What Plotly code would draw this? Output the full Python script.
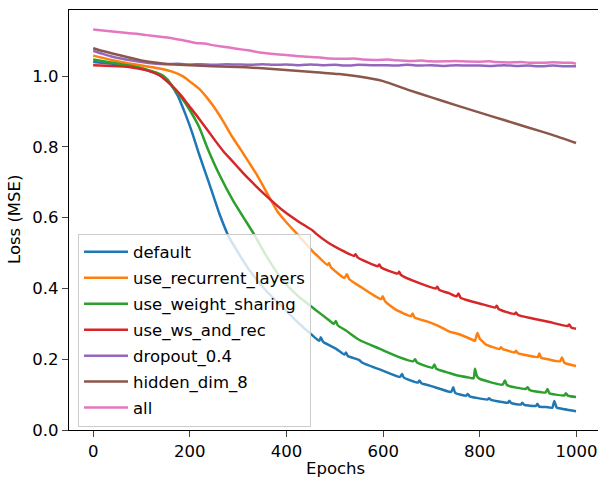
import plotly.graph_objects as go

# ---------------- data ----------------
default_x = [0, 40, 74, 109, 137, 150, 161, 175, 185, 195, 205, 219, 240, 261, 281, 306, 323, 357, 392, 419, 454,
             468, 471, 476, 502, 520, 523, 527, 550, 557, 599, 635, 639, 643, 672, 675, 679, 695, 737, 741, 745, 749,
             772, 775, 779, 792, 816, 819, 823, 847, 858, 861, 865, 885, 888, 892, 902, 916, 919, 923, 937, 950, 954,
             959, 961, 999]
default_y = [1.040, 1.035, 1.030, 1.018, 1.003, 0.990, 0.975, 0.945, 0.913, 0.878, 0.840, 0.780, 0.697, 0.612, 0.545,
             0.488, 0.452, 0.395, 0.347, 0.310, 0.267, 0.252, 0.262, 0.249, 0.230, 0.213, 0.219, 0.209, 0.198, 0.190,
             0.168, 0.150, 0.158, 0.148, 0.134, 0.140, 0.132, 0.126, 0.108, 0.108, 0.121, 0.105, 0.097, 0.102, 0.095,
             0.091, 0.086, 0.090, 0.085, 0.079, 0.077, 0.083, 0.076, 0.072, 0.077, 0.071, 0.069, 0.068, 0.074, 0.066,
             0.065, 0.063, 0.082, 0.063, 0.062, 0.053]

rec_x = [0, 40, 74, 109, 143, 165, 185, 200, 219, 235, 254, 270, 288, 306, 323, 337, 364, 378, 381, 399, 426, 454,
         461, 485, 488, 492, 520, 525, 530, 554, 580, 596, 599, 604, 626, 658, 661, 665, 695, 716, 737, 754, 764, 788,
         790, 795, 800, 806, 812, 841, 844, 848, 854, 872, 875, 879, 902, 920, 923, 927, 944, 966, 970, 975, 999]
rec_y = [1.058, 1.045, 1.036, 1.028, 1.020, 1.012, 1.000, 0.985, 0.965, 0.940, 0.905, 0.870, 0.828, 0.791, 0.755,
         0.725, 0.659, 0.625, 0.618, 0.588, 0.548, 0.505, 0.496, 0.466, 0.472, 0.460, 0.430, 0.440, 0.426, 0.404,
         0.381, 0.370, 0.378, 0.364, 0.340, 0.322, 0.329, 0.318, 0.305, 0.293, 0.278, 0.272, 0.267, 0.253, 0.252,
         0.274, 0.258, 0.250, 0.242, 0.229, 0.234, 0.228, 0.226, 0.219, 0.224, 0.217, 0.210, 0.206, 0.216, 0.204,
         0.199, 0.194, 0.205, 0.190, 0.181]

ws_x = [0, 40, 74, 109, 143, 154, 170, 185, 195, 219, 237, 261, 288, 316, 333, 357, 392, 426, 457, 488, 498,
        502, 506, 523, 550, 592, 633, 662, 666, 670, 702, 706, 710, 737, 754, 778, 787, 790, 794, 799, 847, 852, 856,
        895, 899, 903, 936, 940, 944, 957, 975, 978, 982, 999]
ws_y = [1.047, 1.038, 1.030, 1.019, 1.003, 0.990, 0.960, 0.935, 0.915, 0.857, 0.795, 0.722, 0.652, 0.590,
        0.553, 0.495, 0.423, 0.376, 0.343, 0.310, 0.300, 0.308, 0.296, 0.281, 0.255, 0.230, 0.206, 0.194, 0.200,
        0.191, 0.176, 0.185, 0.173, 0.161, 0.154, 0.148, 0.146, 0.173, 0.152, 0.145, 0.128, 0.140, 0.127, 0.116,
        0.121, 0.113, 0.106, 0.116, 0.104, 0.100, 0.098, 0.104, 0.097, 0.093]

wsrec_x = [0, 40, 74, 109, 137, 150, 171, 185, 195, 219, 254, 271, 288, 309, 323, 357, 392, 426, 454, 461, 488, 502,
           540, 543, 547, 589, 592, 596, 630, 633, 637, 675, 709, 712, 716, 737, 752, 756, 760, 771, 806, 832, 835,
           839, 854, 872, 875, 879, 909, 944, 982, 985, 989, 999]
wsrec_y = [1.031, 1.029, 1.026, 1.017, 1.003, 0.989, 0.962, 0.940, 0.922, 0.880, 0.815, 0.785, 0.760, 0.728, 0.708,
           0.663, 0.621, 0.588, 0.564, 0.555, 0.528, 0.517, 0.492, 0.497, 0.488, 0.463, 0.468, 0.459, 0.442, 0.447,
           0.438, 0.415, 0.400, 0.405, 0.396, 0.386, 0.378, 0.386, 0.374, 0.368, 0.355, 0.346, 0.351, 0.342, 0.334,
           0.328, 0.332, 0.325, 0.315, 0.305, 0.294, 0.298, 0.290, 0.286]

drop_x = [0, 20, 40, 60, 80, 100, 125, 150, 175, 200, 225, 250, 275, 300, 325, 350, 375, 400, 425, 450, 475, 500,
          525, 550, 575, 600, 625, 650, 675, 700, 725, 750, 775, 800, 825, 850, 875, 900, 925, 950, 975, 999]
drop_y = [1.072, 1.063, 1.055, 1.049, 1.044, 1.040, 1.036, 1.034, 1.035, 1.033, 1.034, 1.032, 1.034, 1.033, 1.032,
          1.034, 1.032, 1.033, 1.031, 1.033, 1.031, 1.032, 1.030, 1.032, 1.031, 1.031, 1.030, 1.032, 1.030, 1.031,
          1.029, 1.031, 1.030, 1.030, 1.029, 1.031, 1.029, 1.030, 1.028, 1.030, 1.028, 1.028]

hid_x = [0, 20, 40, 74, 109, 143, 178, 247, 316, 385, 454, 509, 550, 600, 650, 700, 750, 800, 850, 900, 950, 999]
hid_y = [1.079, 1.071, 1.064, 1.053, 1.042, 1.036, 1.032, 1.028, 1.025, 1.019, 1.012, 1.006, 0.999, 0.986, 0.962,
         0.940, 0.918, 0.897, 0.876, 0.855, 0.834, 0.811]

all_x = [0, 20, 40, 74, 90, 110, 143, 160, 180, 212, 230, 250, 281, 300, 320, 350, 385, 400, 419, 450, 470, 488,
         520, 540, 557, 590, 610, 626, 660, 680, 695, 730, 750, 764, 800, 820, 833, 870, 885, 902, 935, 950, 971, 990,
         999]
all_y = [1.132, 1.129, 1.126, 1.121, 1.120, 1.116, 1.111, 1.108, 1.103, 1.094, 1.092, 1.087, 1.081, 1.077, 1.073,
         1.066, 1.061, 1.060, 1.057, 1.054, 1.053, 1.050, 1.049, 1.050, 1.047, 1.046, 1.047, 1.045, 1.043, 1.044,
         1.042, 1.042, 1.043, 1.042, 1.041, 1.042, 1.040, 1.039, 1.040, 1.038, 1.038, 1.039, 1.038, 1.038, 1.035]

names = ["default", "use_recurrent_layers", "use_weight_sharing", "use_ws_and_rec",
         "dropout_0.4", "hidden_dim_8", "all"]
series_x = [default_x, rec_x, ws_x, wsrec_x, drop_x, hid_x, all_x]
series_y = [default_y, rec_y, ws_y, wsrec_y, drop_y, hid_y, all_y]
colors = ["#1f77b4", "#ff7f0e", "#2ca02c", "#d62728", "#9467bd", "#8c564b", "#e377c2"]

x_ticks = [0, 200, 400, 600, 800, 1000]
y_ticks = [0.0, 0.2, 0.4, 0.6, 0.8, 1.0]

# ---------------- figure ----------------
fig = go.Figure()
for i, (n, xs, ys, c) in enumerate(zip(names, series_x, series_y, colors)):
    fig.add_trace(go.Scatter(x=xs, y=ys, mode="lines", name=n, legendgroup=n,
                             line=dict(color=c, width=2.5, shape="spline", smoothing=0.5)))

FONT = "DejaVu Sans"
fig.update_layout(
    width=598, height=480,
    margin=dict(l=69, r=0, t=10, b=50),
    paper_bgcolor="white", plot_bgcolor="white",
    font=dict(family=FONT, size=16.5, color="black"),
    showlegend=True,
    legend=dict(x=0.017, y=0.008, xanchor="left", yanchor="bottom",
                bgcolor="rgba(255,255,255,0.8)", bordercolor="#cccccc", borderwidth=1,
                font=dict(family=FONT, size=16.5, color="black"),
                tracegroupgap=1.5, itemwidth=44),
    xaxis=dict(range=[-50, 1044.5], tickvals=x_ticks, ticks="outside", ticklen=6, tickwidth=1.3,
               showline=True, linecolor="black", linewidth=1.3, mirror=True,
               showgrid=False, zeroline=False),
    yaxis=dict(range=[0, 1.187], tickvals=y_ticks, tickformat=".1f", ticks="outside", ticklen=6,
               tickwidth=1.3, showline=True, linecolor="black", linewidth=1.3, mirror=False,
               showgrid=False, zeroline=False),
    annotations=[
        dict(text="Epochs", xref="paper", yref="paper", x=0.504, y=0, xanchor="center", yanchor="top",
             yshift=-27, showarrow=False, font=dict(family=FONT, size=16.5)),
        dict(text="Loss (MSE)", xref="paper", yref="paper", x=0, y=0.5, xanchor="center", yanchor="middle",
             xshift=-55, textangle=-90, showarrow=False, font=dict(family=FONT, size=16.5)),
    ],
)

fig.write_html("out.html")
